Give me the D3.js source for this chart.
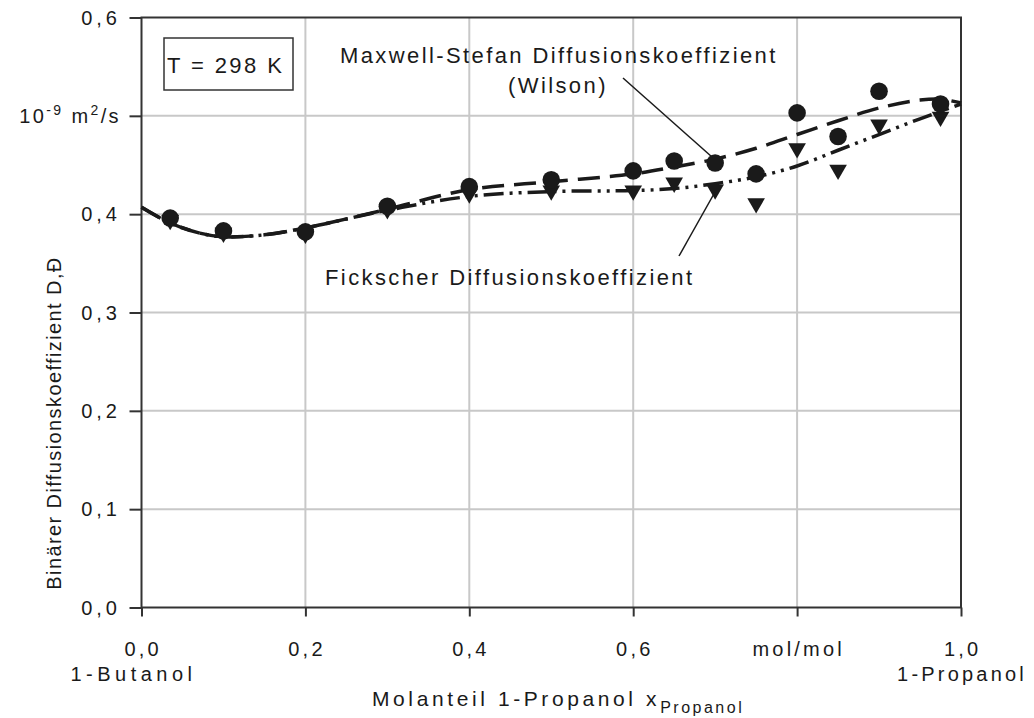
<!DOCTYPE html>
<html>
<head>
<meta charset="utf-8">
<script src="https://cdn.jsdelivr.net/npm/d3@7"></script>
<style>
  body { margin: 0; background: #fff; }
  text { font-family: "Liberation Sans", Arial, sans-serif; fill: #1a1a1a; }
</style>
</head>
<body>
<script>
// measured points, x = mole fraction 1-propanol
var msX   = [0.035, 0.1, 0.2, 0.3, 0.4, 0.5, 0.6, 0.65, 0.7, 0.75, 0.8, 0.85, 0.9, 0.975];
var msY   = [0.396, 0.383, 0.382, 0.408, 0.428, 0.435, 0.444, 0.454, 0.452, 0.441, 0.503, 0.479, 0.525, 0.512];
var fickX = [0.035, 0.1, 0.2, 0.3, 0.4, 0.5, 0.6, 0.65, 0.7, 0.75, 0.8, 0.85, 0.9, 0.975];
var fickY = [0.394, 0.381, 0.380, 0.405, 0.421, 0.424, 0.424, 0.432, 0.425, 0.411, 0.467, 0.445, 0.491, 0.499];

// model curves
var wilsonX = [0, 0.035, 0.07, 0.1, 0.15, 0.2, 0.3, 0.4, 0.5, 0.6, 0.65, 0.7, 0.75, 0.8, 0.85, 0.9, 0.95, 0.975, 1.0];
var wilsonY = [0.407, 0.391, 0.381, 0.377, 0.379, 0.386, 0.405, 0.425, 0.433, 0.441, 0.448, 0.456, 0.467, 0.481, 0.495, 0.508, 0.516, 0.517, 0.513];
var fickLineX = [0, 0.035, 0.07, 0.1, 0.15, 0.2, 0.3, 0.4, 0.5, 0.6, 0.65, 0.7, 0.75, 0.8, 0.85, 0.9, 0.95, 1.0];
var fickLineY = [0.407, 0.391, 0.381, 0.377, 0.379, 0.386, 0.404, 0.418, 0.423, 0.424, 0.426, 0.431, 0.438, 0.449, 0.465, 0.481, 0.497, 0.512];

var xTicks = [0, 0.2, 0.4, 0.6, 0.8, 1.0];
var yTicks = [0, 0.1, 0.2, 0.3, 0.4, 0.5, 0.6];

var W = 1034, H = 718;
var svg = d3.select("body").append("svg").attr("width", W).attr("height", H);

var x = d3.scaleLinear().domain([0, 1]).range([141.5, 961]);
var y = d3.scaleLinear().domain([0, 0.6]).range([607.5, 17.5]);
var comma = function(v) { return d3.format(".1f")(v).replace(".", ","); };

// grid
svg.append("g").selectAll("line").data(xTicks.slice(1, -1)).enter().append("line")
  .attr("x1", function(d) { return x(d); }).attr("x2", function(d) { return x(d); })
  .attr("y1", y(0)).attr("y2", y(0.6))
  .attr("stroke", "#c8c8c8").attr("stroke-width", 2);
svg.append("g").selectAll("line").data(yTicks.slice(1, -1)).enter().append("line")
  .attr("y1", function(d) { return y(d); }).attr("y2", function(d) { return y(d); })
  .attr("x1", x(0)).attr("x2", x(1))
  .attr("stroke", "#c8c8c8").attr("stroke-width", 2);

// frame
svg.append("rect").attr("x", x(0)).attr("y", y(0.6))
  .attr("width", x(1) - x(0)).attr("height", y(0) - y(0.6))
  .attr("fill", "none").attr("stroke", "#333").attr("stroke-width", 2);

// axes
var xAxis = svg.append("g").attr("transform", "translate(0," + y(0) + ")")
  .call(d3.axisBottom(x).tickValues(xTicks).tickSize(9).tickFormat(""));
var yAxis = svg.append("g").attr("transform", "translate(" + x(0) + ",0)")
  .call(d3.axisLeft(y).tickValues(yTicks).tickSize(12).tickFormat(""));
[xAxis, yAxis].forEach(function(a) {
  a.select(".domain").remove();
  a.selectAll("line").attr("stroke", "#333").attr("stroke-width", 2);
});

// tick labels
var tickFont = 20, tickLs = 3.2;
svg.append("g").selectAll("text").data(xTicks).enter().append("text")
  .attr("x", function(d) { return x(d) + tickLs / 2; })
  .attr("y", 656)
  .attr("text-anchor", "middle")
  .style("font-size", tickFont + "px").style("letter-spacing", tickLs + "px")
  .text(function(d) { return d === 0.8 ? "mol/mol" : comma(d); });

svg.append("text").attr("x", x(0) - 8).attr("y", 681).attr("text-anchor", "middle")
  .style("font-size", tickFont + "px").style("letter-spacing", "4.5px").text("1-Butanol");
svg.append("text").attr("x", x(1) + 1).attr("y", 681).attr("text-anchor", "middle")
  .style("font-size", tickFont + "px").style("letter-spacing", tickLs + "px").text("1-Propanol");

svg.append("g").selectAll("text").data(yTicks.filter(function(d) { return d !== 0.5; })).enter().append("text")
  .attr("x", 121).attr("y", function(d) { return y(d) + 7; })
  .attr("text-anchor", "end")
  .style("font-size", tickFont + "px").style("letter-spacing", "4px")
  .text(comma);

var unit = svg.append("text").attr("x", 121).attr("y", y(0.5) + 7).attr("text-anchor", "end")
  .style("font-size", tickFont + "px").style("letter-spacing", "2.4px");
unit.append("tspan").text("10");
unit.append("tspan").attr("dy", -8).style("font-size", "14px").text("-9");
unit.append("tspan").attr("dy", 8).text(" m");
unit.append("tspan").attr("dy", -8).style("font-size", "14px").text("2");
unit.append("tspan").attr("dy", 8).text("/s");

// axis titles
var xt = svg.append("text").attr("x", 372).attr("y", 706)
  .style("font-size", "21px").style("letter-spacing", "3.6px");
xt.append("tspan").text("Molanteil 1-Propanol x");
xt.append("tspan").attr("dy", 7).style("font-size", "16px").style("letter-spacing", "2.5px").text("Propanol");

svg.append("text")
  .attr("transform", "translate(61," + 423 + ") rotate(-90)")
  .attr("text-anchor", "middle")
  .style("font-size", "20px").style("letter-spacing", "1.4px")
  .text("Binärer Diffusionskoeffizient D,Đ");

// model lines
var line = d3.line().curve(d3.curveCatmullRom)
  .x(function(d) { return x(d[0]); }).y(function(d) { return y(d[1]); });

svg.append("path").datum(d3.zip(fickLineX, fickLineY))
  .attr("d", line).attr("fill", "none").attr("stroke", "#1a1a1a")
  .attr("stroke-width", 3.5).attr("stroke-dasharray", "20,6,3,6,3,6");
svg.append("path").datum(d3.zip(wilsonX, wilsonY))
  .attr("d", line).attr("fill", "none").attr("stroke", "#1a1a1a")
  .attr("stroke-width", 3.5).attr("stroke-dasharray", "22,10");

// markers
var tri = d3.symbol().type(d3.symbolTriangle).size(135);
svg.append("g").selectAll("path").data(d3.zip(fickX, fickY)).enter().append("path")
  .attr("d", tri)
  .attr("transform", function(d) { return "translate(" + x(d[0]) + "," + y(d[1]) + ") rotate(180)"; })
  .attr("fill", "#1a1a1a");
svg.append("g").selectAll("circle").data(d3.zip(msX, msY)).enter().append("circle")
  .attr("cx", function(d) { return x(d[0]); }).attr("cy", function(d) { return y(d[1]); })
  .attr("r", 8.8).attr("fill", "#1a1a1a");

// annotations
var annFont = 22, annLs = 2.4;
svg.append("rect").attr("x", 164).attr("y", 38).attr("width", 129).attr("height", 52)
  .attr("fill", "#fff").attr("stroke", "#333").attr("stroke-width", 1.5);
svg.append("text").attr("x", 167).attr("y", 73)
  .style("font-size", annFont + "px").style("letter-spacing", annLs + "px").text("T = 298 K");

svg.append("text").attr("x", 340).attr("y", 63)
  .style("font-size", annFont + "px").style("letter-spacing", annLs + "px")
  .text("Maxwell-Stefan Diffusionskoeffizient");
svg.append("text").attr("x", 508).attr("y", 93)
  .style("font-size", annFont + "px").style("letter-spacing", annLs + "px")
  .text("(Wilson)");
svg.append("text").attr("x", 325).attr("y", 285)
  .style("font-size", annFont + "px").style("letter-spacing", annLs + "px")
  .text("Fickscher Diffusionskoeffizient");

svg.append("line").attr("x1", 623).attr("y1", 78).attr("x2", 712).attr("y2", 157)
  .attr("stroke", "#1a1a1a").attr("stroke-width", 1.5);
svg.append("line").attr("x1", 679).attr("y1", 256).attr("x2", 715).attr("y2", 192)
  .attr("stroke", "#1a1a1a").attr("stroke-width", 1.5);
</script>
</body>
</html>
